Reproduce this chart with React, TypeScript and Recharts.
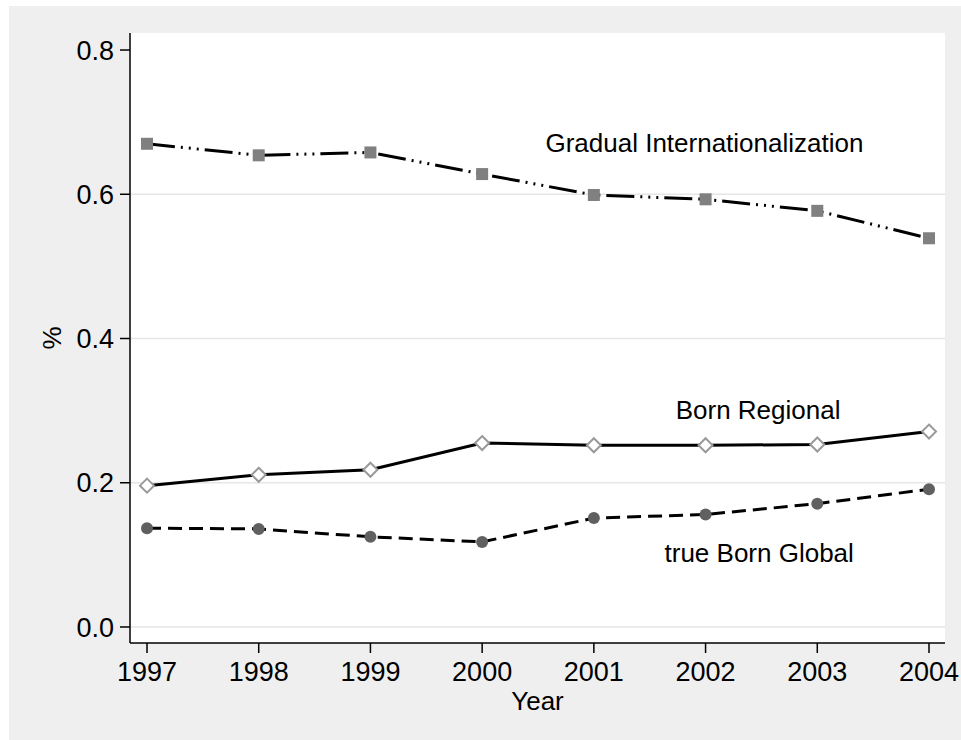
import React from "react"
import {
    LineChart,
    Line,
    XAxis,
    YAxis,
    CartesianGrid,
    ReferenceDot,
    Label
} from "recharts"

const years = [1997, 1998, 1999, 2000, 2001, 2002, 2003, 2004]
const gradualIntl = [0.670, 0.654, 0.658, 0.628, 0.599, 0.593, 0.577, 0.539]
const bornRegional = [0.196, 0.211, 0.218, 0.255, 0.252, 0.252, 0.253, 0.271]
const trueBornGlobal = [0.137, 0.136, 0.125, 0.118, 0.151, 0.156, 0.171, 0.191]
const yTicks = [0, 0.2, 0.4, 0.6, 0.8]
const gridValues = [0, 0.2, 0.4, 0.6]

const data = years.map((year, i) => ({
    year,
    gradual: gradualIntl[i],
    regional: bornRegional[i],
    global: trueBornGlobal[i]
}))

const FONT = "Arial, 'Liberation Sans', Helvetica, sans-serif"

const SquareDot = (props: any) => {
    const { cx, cy } = props
    if (cx == null || cy == null) return null
    return <rect x={cx - 6} y={cy - 6} width={12} height={12} fill="#808080" />
}

const DiamondDot = (props: any) => {
    const { cx, cy } = props
    if (cx == null || cy == null) return null
    const r = 7
    return (
        <polygon
            points={`${cx},${cy - r} ${cx + r},${cy} ${cx},${cy + r} ${cx - r},${cy}`}
            fill="#ffffff"
            stroke="#999999"
            strokeWidth={2}
        />
    )
}

const CircleDot = (props: any) => {
    const { cx, cy } = props
    if (cx == null || cy == null) return null
    return <circle cx={cx} cy={cy} r={6} fill="#606060" />
}

const tickStyle = { fill: "#000000", fontSize: 27, fontFamily: FONT }
const labelStyle = { fill: "#000000", fontSize: 26, fontFamily: FONT }

export default function App() {
    return (
        <div
            style={{
                position: "absolute",
                left: 9,
                top: 6,
                width: 952,
                height: 734,
                background: "#efefef"
            }}
        >
            <LineChart
                width={952}
                height={734}
                data={data}
                margin={{ top: 27, right: 16, left: 0, bottom: 0 }}
            >
                <CartesianGrid
                    vertical={false}
                    horizontalValues={gridValues}
                    stroke="#e6e6e6"
                    strokeWidth={1.5}
                    fill="#ffffff"
                    fillOpacity={1}
                />

                <XAxis
                    dataKey="year"
                    type="number"
                    domain={[1997, 2004]}
                    ticks={years}
                    padding={{ left: 17, right: 16 }}
                    height={97}
                    tickSize={10}
                    tickMargin={9}
                    axisLine={{ stroke: "#000000", strokeWidth: 1.5 }}
                    tickLine={{ stroke: "#000000", strokeWidth: 1.5 }}
                    tick={tickStyle}
                    interval={0}
                >
                    <Label
                        value="Year"
                        position="insideBottom"
                        offset={30}
                        style={labelStyle}
                    />
                </XAxis>

                <YAxis
                    type="number"
                    domain={[-0.0222, 0.8236]}
                    allowDataOverflow
                    ticks={yTicks}
                    tickFormatter={(v: number) => v.toFixed(1)}
                    width={121}
                    tickSize={10}
                    tickMargin={6}
                    axisLine={{ stroke: "#000000", strokeWidth: 1.5 }}
                    tickLine={{ stroke: "#000000", strokeWidth: 1.5 }}
                    tick={tickStyle}
                >
                    <Label
                        value="%"
                        angle={-90}
                        position="insideLeft"
                        offset={43}
                        style={{ ...labelStyle, textAnchor: "middle" }}
                    />
                </YAxis>

                <Line
                    type="linear"
                    dataKey="gradual"
                    stroke="#000000"
                    strokeWidth={3}
                    strokeDasharray="28 6 2 6 2 6 2 6"
                    dot={<SquareDot />}
                    activeDot={false}
                    isAnimationActive={false}
                />
                <Line
                    type="linear"
                    dataKey="regional"
                    stroke="#000000"
                    strokeWidth={3}
                    dot={<DiamondDot />}
                    activeDot={false}
                    isAnimationActive={false}
                />
                <Line
                    type="linear"
                    dataKey="global"
                    stroke="#000000"
                    strokeWidth={3}
                    strokeDasharray="14 7"
                    dot={<CircleDot />}
                    activeDot={false}
                    isAnimationActive={false}
                />

                <ReferenceDot x={2001.99} y={0.672} r={0} fill="none" stroke="none" ifOverflow="visible">
                    <Label value="Gradual Internationalization" position="center" style={labelStyle} />
                </ReferenceDot>
                <ReferenceDot x={2002.47} y={0.301} r={0} fill="none" stroke="none" ifOverflow="visible">
                    <Label value="Born Regional" position="center" style={labelStyle} />
                </ReferenceDot>
                <ReferenceDot x={2002.48} y={0.1026} r={0} fill="none" stroke="none" ifOverflow="visible">
                    <Label value="true Born Global" position="center" style={labelStyle} />
                </ReferenceDot>
            </LineChart>
        </div>
    )
}
